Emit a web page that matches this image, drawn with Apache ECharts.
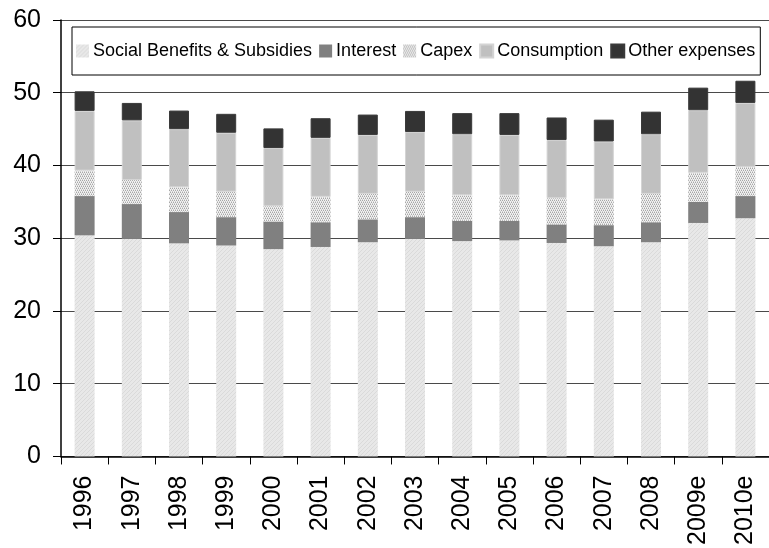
<!DOCTYPE html>
<html>
<head>
<meta charset="utf-8">
<script src="https://cdn.jsdelivr.net/npm/echarts@6/dist/echarts.min.js"></script>
<style>html,body{margin:0;padding:0;background:#fff}#c{width:769px;height:548px}</style>
</head>
<body>
<div id="c"></div>
<script>
const categories = ['1996','1997','1998','1999','2000','2001','2002','2003','2004','2005','2006','2007','2008','2009e','2010e'];
const socialBenefits = [30.4, 29.9, 29.3, 29.0, 28.5, 28.8, 29.45, 29.9, 29.6, 29.7, 29.35, 28.9, 29.45, 32.1, 32.75];
const interest       = [5.4, 4.8, 4.3, 3.9, 3.8, 3.4, 3.15, 3.0, 2.8, 2.7, 2.55, 2.9, 2.75, 2.9, 3.05];
const capex          = [3.5, 3.3, 3.4, 3.5, 2.1, 3.5, 3.5, 3.5, 3.5, 3.5, 3.6, 3.55, 3.9, 4.0, 4.0];
const consumption    = [8.2, 8.2, 8.0, 8.1, 8.0, 8.1, 8.1, 8.2, 8.4, 8.3, 8.0, 7.95, 8.2, 8.6, 8.8];
const otherExpenses  = [2.7, 2.4, 2.55, 2.6, 2.7, 2.7, 2.8, 2.9, 2.9, 3.0, 3.1, 3.0, 3.1, 3.1, 3.05];
const seriesNames = ['Social Benefits & Subsidies','Interest','Capex','Consumption','Other expenses'];
const yTicks = [0, 10, 20, 30, 40, 50, 60];

function hatch() {
  const c = document.createElement('canvas'); c.width = 4; c.height = 4;
  const g = c.getContext('2d');
  g.fillStyle = '#e8e8e8'; g.fillRect(0,0,4,4);
  g.fillStyle = '#dadada';
  for (let i = 0; i < 4; i++) g.fillRect(i, 3 - i, 1, 1);
  return c;
}
function dots() {
  const c = document.createElement('canvas'); c.width = 4; c.height = 4;
  const g = c.getContext('2d');
  g.fillStyle = '#f2f2f2'; g.fillRect(0,0,4,4);
  g.fillStyle = '#a8a8a8';
  g.fillRect(0,0,1,1); g.fillRect(2,0,1,1); g.fillRect(1,2,1,1); g.fillRect(3,2,1,1);
  g.fillStyle = '#cfcfcf';
  g.fillRect(1,1,1,1); g.fillRect(3,1,1,1); g.fillRect(0,3,1,1); g.fillRect(2,3,1,1);
  return c;
}
const colors = [
  {image: hatch(), repeat: 'repeat'},
  '#808080',
  {image: dots(), repeat: 'repeat'},
  '#c0c0c0',
  '#333333'
];
const dataList = [socialBenefits, interest, capex, consumption, otherExpenses];
const FONT = 'Liberation Sans, Arial, sans-serif';

const chart = echarts.init(document.getElementById('c'), null, {renderer: 'canvas'});
chart.setOption({
  animation: false,
  textStyle: {fontFamily: FONT},
  grid: {left: 61, right: -3, top: 20, bottom: 91, containLabel: false},
  legend: {
    left: 72, top: 27, width: 740,
    padding: [15, 5, 15, 4],
    itemGap: 7, itemWidth: 13, itemHeight: 13,
    borderColor: '#000', borderWidth: 1,
    icon: 'rect',
    textStyle: {fontSize: 18, color: '#000', fontFamily: FONT, padding: [0,0,0,-1]},
    data: seriesNames
  },
  xAxis: {
    type: 'category',
    data: categories,
    axisLine: {lineStyle: {color: '#000', width: 1.5}},
    axisTick: {show: true, length: 8, lineStyle: {color: '#000', width: 1}},
    axisLabel: {rotate: 90, fontSize: 25, color: '#000', margin: 19, fontFamily: FONT},
    splitLine: {show: false}
  },
  yAxis: {
    type: 'value',
    min: yTicks[0], max: yTicks[yTicks.length-1], interval: 10,
    axisLine: {show: true, lineStyle: {color: '#000', width: 1.5}},
    axisTick: {show: true, length: 8, lineStyle: {color: '#000', width: 1}},
    axisLabel: {fontSize: 25, color: '#000', margin: 20, fontFamily: FONT},
    splitLine: {show: true, lineStyle: {color: '#4a4a4a', width: 1}}
  },
  series: seriesNames.map((name, i) => ({
    name: name,
    type: 'bar',
    stack: 'total',
    barWidth: 20,
    data: dataList[i],
    itemStyle: {color: colors[i], borderColor: i === 3 ? '#d4d4d4' : (i === 4 ? '#3a3a3a' : 'transparent'), borderWidth: i >= 3 ? 1 : 0},
    emphasis: {disabled: true}
  }))
});
</script>
</body>
</html>
